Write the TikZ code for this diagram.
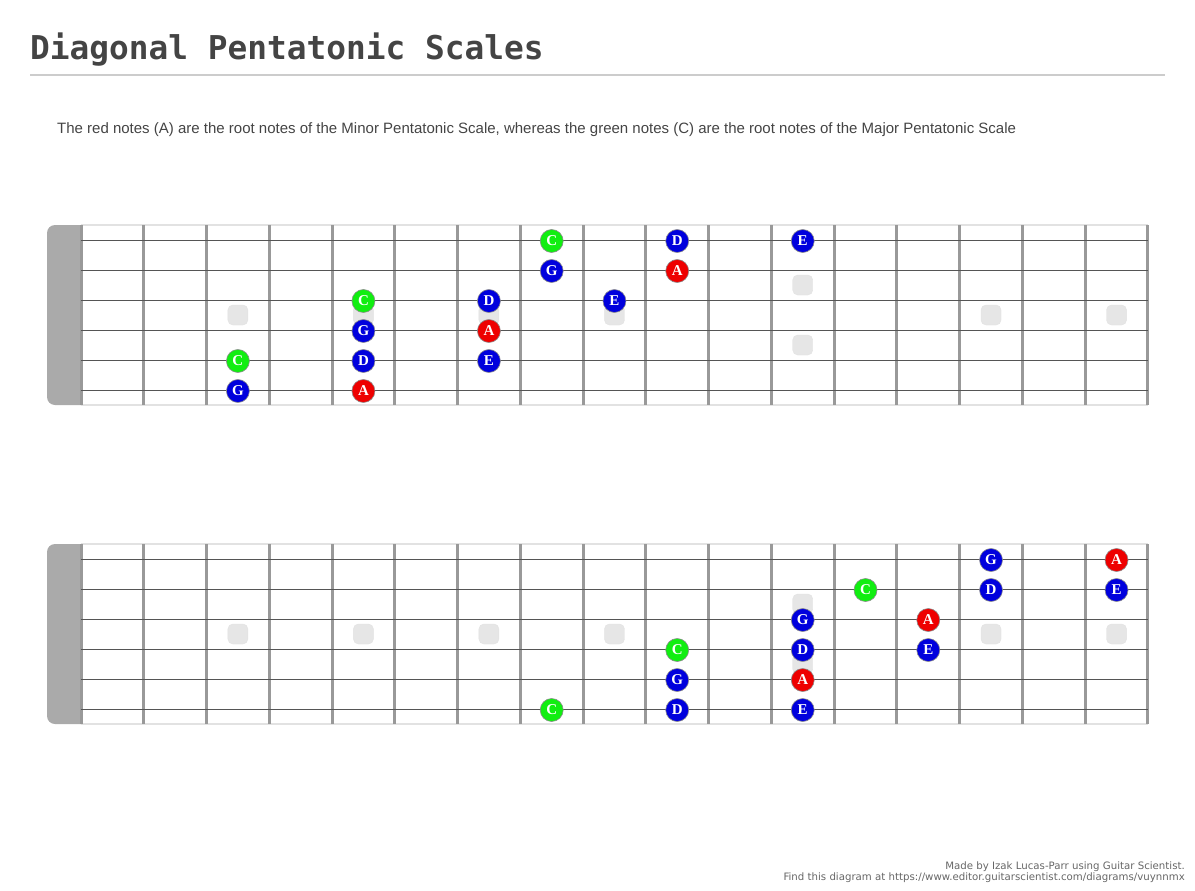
\documentclass[tikz,border=0pt]{standalone}
\usepackage{fontspec}
\setmainfont{Liberation Sans}
\newfontfamily\titlefont{DejaVu Sans Mono}
\newfontfamily\notefont{Liberation Serif}
\newfontfamily\footfont{DejaVu Sans}

\definecolor{titlegray}{HTML}{444444}
\definecolor{rulegray}{HTML}{CCCCCC}
\definecolor{boardgray}{HTML}{E2E2E2}
\definecolor{fretgray}{HTML}{999999}
\definecolor{stringgray}{HTML}{555555}
\definecolor{nutgray}{HTML}{AAAAAA}
\definecolor{inlaygray}{HTML}{E6E6E6}
\definecolor{notblue}{HTML}{0000DD}
\definecolor{majgreen}{HTML}{11EE11}
\definecolor{minred}{HTML}{EE0000}
\definecolor{footgray}{HTML}{666666}

\tikzset{
  note/.style={circle, minimum size=23, inner sep=0pt, draw=black!45, line width=0.6,
    text=white, font=\notefont\bfseries\fontsize{15}{15}\selectfont},
  inlay/.style={fill=inlaygray, draw=boardgray, rounded corners=5}
}

\begin{document}
\begin{tikzpicture}[x=1pt,y=-1pt]

\def\fw{62.76}
\useasboundingbox (0,0) rectangle (1195,891);

\node[anchor=base west, inner sep=0, text=titlegray,
  font=\titlefont\bfseries\fontsize{32.8}{33}\selectfont] (title) at (30,60) {Diagonal Pentatonic Scales};
\draw[rulegray, line width=2] (30,75) -- (1165,75);

\node[anchor=base west, inner sep=0, text=titlegray, font=\fontsize{15}{15}\selectfont] (desc) at (57,133)
  {The red notes (A) are the root notes of the Minor Pentatonic Scale, whereas the green notes (C) are the root notes of the Major Pentatonic Scale};

\foreach \by in {225,544} {
  \fill[nutgray, rounded corners=8] (47,\by) rectangle (100,\by+180);
  \fill[white] (81,\by) rectangle (1148,\by+180);
  \draw[boardgray, line width=2] (81,\by) -- (1148,\by);
  \draw[boardgray, line width=2] (81,\by+180) -- (1148,\by+180);
  \foreach \f in {3,5,7,9,15,17}
    \draw[inlay] (81+\fw*\f-\fw/2-10,\by+80) rectangle +(20,20);
  \draw[inlay] (81+\fw*11.5-10,\by+50) rectangle +(20,20);
  \draw[inlay] (81+\fw*11.5-10,\by+110) rectangle +(20,20);
  \foreach \f in {0,...,17}
    \draw[fretgray, line width=3] (81+\fw*\f,\by) -- (81+\fw*\f,\by+180);
  \foreach \s in {1,...,6}
    \draw[stringgray, line width=0.9] (81,\by+30*\s-15) -- (1148,\by+30*\s-15);
}

\foreach \s/\f/\n/\c in {1/8/C/majgreen, 1/10/D/notblue, 1/12/E/notblue,
    2/8/G/notblue, 2/10/A/minred,
    3/5/C/majgreen, 3/7/D/notblue, 3/9/E/notblue,
    4/5/G/notblue, 4/7/A/minred,
    5/3/C/majgreen, 5/5/D/notblue, 5/7/E/notblue,
    6/3/G/notblue, 6/5/A/minred}
  \node[note, fill=\c] (top-\s-\f) at (81+\fw*\f-\fw/2,226+30*\s-15) {\n};

\foreach \s/\f/\n/\c in {1/15/G/notblue, 1/17/A/minred,
    2/13/C/majgreen, 2/15/D/notblue, 2/17/E/notblue,
    3/12/G/notblue, 3/14/A/minred,
    4/10/C/majgreen, 4/12/D/notblue, 4/14/E/notblue,
    5/10/G/notblue, 5/12/A/minred,
    6/8/C/majgreen, 6/10/D/notblue, 6/12/E/notblue}
  \node[note, fill=\c] (bot-\s-\f) at (81+\fw*\f-\fw/2,545+30*\s-15) {\n};

\node[anchor=base east, inner sep=0, text=footgray, font=\footfont\fontsize{10.2}{10.2}\selectfont] (made) at (1185,869)
  {Made by Izak Lucas-Parr using Guitar Scientist.};
\node[anchor=base east, inner sep=0, text=footgray, font=\footfont\fontsize{10.2}{10.2}\selectfont] (find) at (1185,880)
  {Find this diagram at https://www.editor.guitarscientist.com/diagrams/vuynnmx};

\end{tikzpicture}
\end{document}
